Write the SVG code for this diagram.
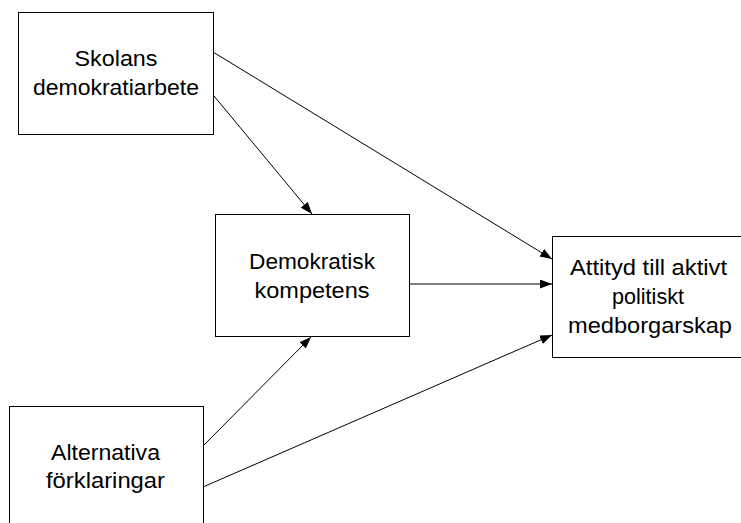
<svg xmlns="http://www.w3.org/2000/svg" width="741" height="523" viewBox="0 0 741 523">
<style>
.box{fill:#fff;stroke:#000;stroke-width:1}
.t{font-family:"Liberation Sans",Arial,sans-serif;font-size:22px;fill:#000;text-anchor:middle}
.c{stroke:#000;stroke-width:1;fill:none;marker-end:url(#ah)}
</style>
<defs>
<marker id="ah" viewBox="0 0 12 9" refX="12" refY="4.5" markerWidth="12" markerHeight="9" markerUnits="userSpaceOnUse" orient="auto">
<path d="M0,0 L12,4.5 L0,9 Z" fill="#000"/>
</marker>
</defs>
<rect width="741" height="523" fill="#fff"/>
<g id="connectors">
<line class="c" x1="213" y1="52" x2="552" y2="259"/>
<line class="c" x1="214" y1="96" x2="312" y2="214"/>
<line class="c" x1="409" y1="284" x2="552" y2="284"/>
<line class="c" x1="203" y1="446" x2="311" y2="337"/>
<line class="c" x1="203" y1="487" x2="552" y2="335"/>
</g>
<g id="skolans">
<rect class="box" x="18.5" y="12.5" width="195" height="122"/>
<text class="t" x="116" y="66" textLength="83" lengthAdjust="spacingAndGlyphs">Skolans</text>
<text class="t" x="116" y="95" textLength="166" lengthAdjust="spacingAndGlyphs">demokratiarbete</text>
</g>
<g id="demokratisk">
<rect class="box" x="215.5" y="214.5" width="194" height="122"/>
<text class="t" x="312" y="269" textLength="126" lengthAdjust="spacingAndGlyphs">Demokratisk</text>
<text class="t" x="312" y="298" textLength="115" lengthAdjust="spacingAndGlyphs">kompetens</text>
</g>
<g id="attityd">
<rect class="box" x="552.5" y="236.5" width="194" height="121"/>
<text class="t" x="648.5" y="275" textLength="157" lengthAdjust="spacingAndGlyphs">Attityd till aktivt</text>
<text class="t" x="648" y="304" textLength="72" lengthAdjust="spacingAndGlyphs">politiskt</text>
<text class="t" x="650" y="333" textLength="164" lengthAdjust="spacingAndGlyphs">medborgarskap</text>
</g>
<g id="alternativa">
<rect class="box" x="9.5" y="406.5" width="194" height="125"/>
<text class="t" x="105.5" y="460" textLength="109" lengthAdjust="spacingAndGlyphs">Alternativa</text>
<text class="t" x="105.5" y="488" textLength="119" lengthAdjust="spacingAndGlyphs">förklaringar</text>
</g>
</svg>
